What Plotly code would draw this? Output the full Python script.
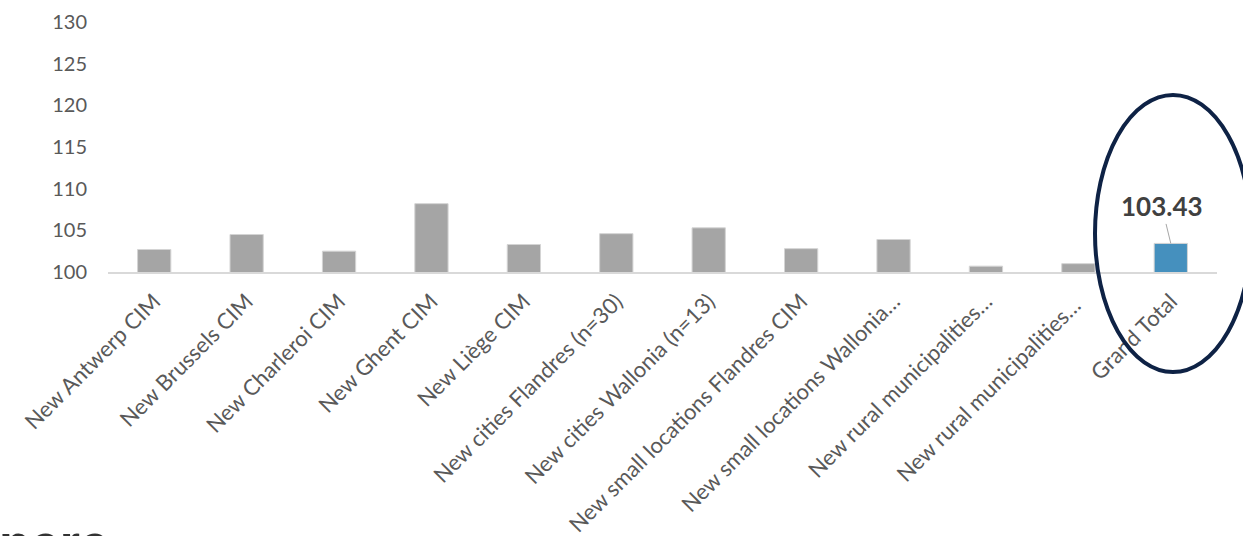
import plotly.graph_objects as go

categories = [
    "New Antwerp CIM", "New Brussels CIM", "New Charleroi CIM", "New Ghent CIM",
    "New Liège CIM", "New cities Flandres (n=30)", "New cities Wallonia (n=13)",
    "New small locations Flandres CIM", "New small locations Wallonia…",
    "New rural municipalities…", "New rural municipalities… ", "Grand Total",
]
values = [102.7, 104.5, 102.5, 108.2, 103.3, 104.6, 105.3, 102.8, 103.9, 100.7, 101.0, 103.43]
y_ticks = [100, 105, 110, 115, 120, 125, 130]

colors = ["#A5A5A5"] * (len(values) - 1) + ["#4590BE"]

W, H = 1243, 536
L, R, T, B = 108, 26, 22, 264

fig = go.Figure(go.Bar(
    x=categories, y=values,
    marker=dict(color=colors, line=dict(color="#D4D4D4", width=1)),
    width=0.36,
))

fig.add_annotation(
    x=categories[-1], y=values[-1], text="<b>%.2f</b>" % values[-1],
    showarrow=True, arrowhead=0, arrowwidth=1, arrowcolor="#A6A6A6",
    ax=-9, ay=-37, font=dict(family="Lato", size=26, color="#404040"),
)

# ellipse highlight around Grand Total
fig.add_shape(type="circle", xref="paper", yref="paper",
              x0=(1095 - L) / (W - L - R), x1=(1251 - L) / (W - L - R),
              y0=(H - B - 372) / (H - T - B), y1=(H - B - 95) / (H - T - B),
              line=dict(color="#0E2245", width=4))

# partially visible slide text at the bottom
fig.add_annotation(xref="paper", yref="paper", x=-L / (W - L - R) - 0.003, y=-0.958,
                   xanchor="left", yanchor="top", showarrow=False,
                   text="<b>nere</b>",
                   font=dict(family="Liberation Sans", size=52, color="#333333"))

fig.update_layout(
    width=W, height=H,
    margin=dict(l=L, r=R, t=T, b=B, autoexpand=False),
    paper_bgcolor="white", plot_bgcolor="white",
    showlegend=False,
    font=dict(family="Lato", color="#595959"),
)
fig.update_xaxes(
    type="category", tickangle=-45, tickfont=dict(size=22, color="#595959"),
    showline=True, linecolor="#D9D9D9", linewidth=2, showgrid=False, ticks="",
    ticklabelstandoff=6,
)
fig.update_yaxes(
    range=[100, 130], tickvals=y_ticks, showgrid=False, zeroline=False,
    showline=False, tickfont=dict(size=20, color="#595959"), ticklabelstandoff=20,
)

fig.write_html("out.html")
